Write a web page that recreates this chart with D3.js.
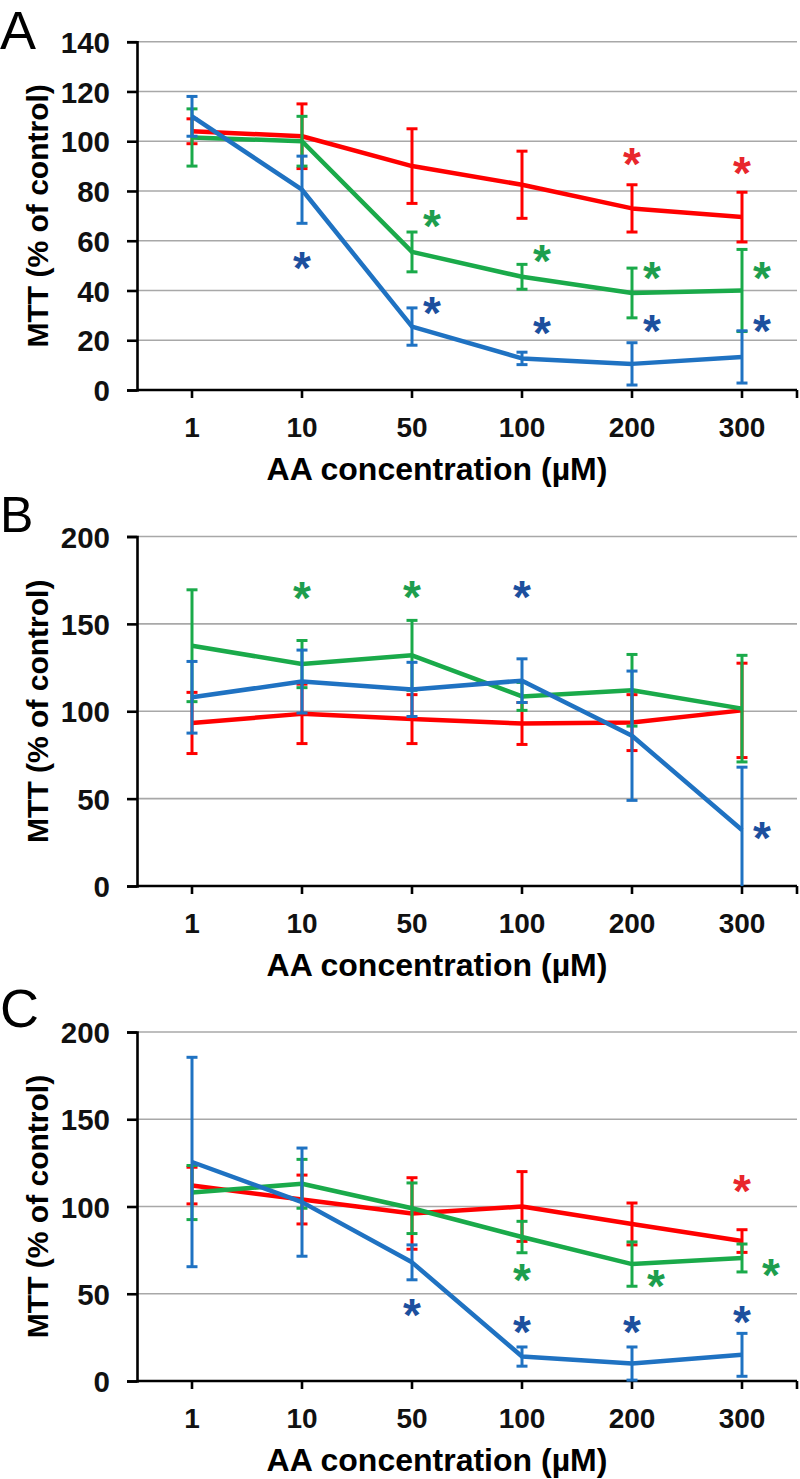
<!DOCTYPE html>
<html><head><meta charset="utf-8">
<script src="https://cdn.jsdelivr.net/npm/d3@7"></script>
<style>
html,body{margin:0;padding:0;background:#fff;}
svg{display:block;font-family:"Liberation Sans",Arial,sans-serif;}
</style></head>
<body>
<svg id="chart" width="800" height="1479"></svg>
<script>
// ---------- data ----------
const categories = ["1","10","50","100","200","300"];
const xTitle = "AA concentration (µM)";
const yTitle = "MTT (% of control)";

const ticksA = [0,20,40,60,80,100,120,140];
const ticksBC = [0,50,100,150,200];

// Panel A
const redA    = [104, 102, 90, 82.5, 73, 69.5];
const redAErr = [5, 13, 15, 13.5, 9.5, 10];
const greenA    = [101.5, 100, 55.5, 45.5, 39, 40];
const greenAErr = [11.5, 10, 8, 5, 10, 16.5];
const blueA    = [110, 80.5, 25.5, 12.7, 10.5, 13.3];
const blueAErr = [8, 13.5, 7.5, 2.5, 8.5, 10.5];
const starsA = [["blue","10",52.7,0],["green","50",69.6,1],["blue","50",34.7,1],["green","100",55.7,1],["blue","100",26.7,1],["red","200",94.4,0],["green","200",48.7,1],["blue","200",27.3,1],["red","300",91,0],["green","300",48.7,1],["blue","300",27.3,1]];

// Panel B
const redB    = [93.3, 98.5, 95.5, 93, 93.5, 100.5];
const redBErr = [17.5, 17, 14, 12, 16, 27];
const greenB    = [137.5, 127, 132, 108.5, 112, 101.5];
const greenBErr = [32, 13.5, 20, 8, 20.5, 30.5];
const blueB    = [108, 117, 112.5, 117.5, 86, 32];
const blueBErr = [20.5, 18, 15.5, 12.5, 37, 36];
const starsB = [["green","10",170.4,0],["green","50",170.5,0],["blue","100",170.5,0],["blue","300",32.8,1]];

// Panel C
const redC    = [112, 104, 96, 100, 90, 80.2];
const redCErr = [10.5, 14, 20.5, 20, 12, 6.5];
const greenC    = [108, 113, 99, 82.5, 67, 70.5];
const greenCErr = [15.5, 14, 14.5, 9, 12.7, 8];
const blueC    = [125.5, 102.5, 68, 14, 10, 15];
const blueCErr = [60, 31, 10, 5.5, 9.5, 12.3];
const starsC = [["blue","50",43.4,0],["green","100",63.4,0],["blue","100",33.2,0],["green","200",59.6,1.2],["blue","200",33.2,0],["red","300",114,0],["green","300",65.9,1.45],["blue","300",39,0]];

// ---------- styles ----------
const lineColor = {red:"#ff0000", green:"#1aaa4a", blue:"#1f72c2"};
const starColor = {red:"#e8262c", green:"#1d9e4e", blue:"#1c4f9e"};

const panels = [
  {letter:"A", lsize:54, lbase:49, top:41.7, bottom:390, max:140, ticks:ticksA,
   series:[["red",redA,redAErr],["green",greenA,greenAErr],["blue",blueA,blueAErr]], stars:starsA},
  {letter:"B", lsize:50, lbase:532, top:536.5, bottom:886, max:200, ticks:ticksBC,
   series:[["red",redB,redBErr],["green",greenB,greenBErr],["blue",blueB,blueBErr]], stars:starsB},
  {letter:"C", lsize:54, lbase:1027, top:1032, bottom:1381, max:200, ticks:ticksBC,
   series:[["red",redC,redCErr],["green",greenC,greenCErr],["blue",blueC,blueCErr]], stars:starsC}
];

const svg = d3.select("#chart");
const left = 137, right = 797;
const x = d3.scaleBand().domain(categories).range([left, right]);
const cx = c => x(c) + x.bandwidth()/2;

panels.forEach(p => {
  const g = svg.append("g");
  const y = d3.scaleLinear().domain([0, p.max]).range([p.bottom, p.top]);

  // gridlines
  g.append("g").selectAll("line").data(p.ticks.filter(t => t > 0)).join("line")
    .attr("x1", left).attr("x2", right)
    .attr("y1", d => y(d)).attr("y2", d => y(d))
    .attr("stroke", "#a8a8a8").attr("stroke-width", 1.6);

  // y axis
  const ya = g.append("g").attr("transform", `translate(${left},0)`)
    .call(d3.axisLeft(y).tickValues(p.ticks).tickSize(10).tickPadding(17));
  ya.select(".domain").attr("stroke", "#000").attr("stroke-width", 2.6);
  ya.selectAll(".tick line").attr("stroke", "#000").attr("stroke-width", 2.6);
  ya.selectAll(".tick text").attr("font-size", 29.5).attr("font-weight", "bold")
    .attr("fill", "#111").attr("font-family", "'Liberation Sans',Arial,sans-serif")
    .attr("dy", "0.36em");

  // x axis
  const xa = g.append("g").attr("transform", `translate(0,${p.bottom})`)
    .call(d3.axisBottom(x).tickSize(8).tickPadding(0).tickFormat(""));
  xa.select(".domain").attr("stroke", "#000").attr("stroke-width", 2.6)
    .attr("d", `M${left},0H${right}`);
  xa.selectAll(".tick line").attr("stroke", "#000").attr("stroke-width", 2.6);
  xa.append("line").attr("x1", right).attr("x2", right).attr("y1", 0).attr("y2", 8)
    .attr("stroke", "#000").attr("stroke-width", 2.6);
  g.append("g").selectAll("text").data(categories).join("text")
    .attr("x", d => cx(d)).attr("y", p.bottom + 47)
    .attr("text-anchor", "middle").attr("font-size", 28).attr("font-weight", "bold")
    .attr("fill", "#111").text(d => d);

  // x title
  g.append("text").attr("x", 437).attr("y", p.bottom + 90)
    .attr("text-anchor", "middle").attr("font-size", 32).attr("font-weight", "bold")
    .attr("fill", "#000").text(xTitle);

  // y title
  g.append("text")
    .attr("transform", `translate(48,${(p.top + p.bottom)/2}) rotate(-90)`)
    .attr("text-anchor", "middle").attr("font-size", 30).attr("font-weight", "bold")
    .attr("fill", "#000").text(yTitle);

  // panel letter
  g.append("text").attr("x", 0).attr("y", p.lbase)
    .attr("font-size", p.lsize).attr("fill", "#000").text(p.letter);

  // series
  const line = d3.line().x((d, i) => cx(categories[i])).y(d => y(d));
  p.series.forEach(([name, vals, errs]) => {
    const sg = g.append("g");
    sg.append("path").datum(vals).attr("d", line)
      .attr("fill", "none").attr("stroke", lineColor[name]).attr("stroke-width", 4.5)
      .attr("stroke-linejoin", "round");
    const eb = sg.selectAll("g.err").data(vals.map((v, i) => ({c: categories[i], v, e: errs[i]})))
      .join("g").attr("class", "err");
    const lo = d => y(Math.max(0, d.v - d.e));
    const hi = d => y(Math.min(p.max, d.v + d.e));
    eb.append("line").attr("x1", d => cx(d.c)).attr("x2", d => cx(d.c))
      .attr("y1", lo).attr("y2", hi)
      .attr("stroke", lineColor[name]).attr("stroke-width", 3);
    eb.filter(d => d.v + d.e <= p.max).append("line")
      .attr("x1", d => cx(d.c) - 5.5).attr("x2", d => cx(d.c) + 5.5)
      .attr("y1", hi).attr("y2", hi)
      .attr("stroke", lineColor[name]).attr("stroke-width", 3);
    eb.filter(d => d.v - d.e >= 0).append("line")
      .attr("x1", d => cx(d.c) - 5.5).attr("x2", d => cx(d.c) + 5.5)
      .attr("y1", lo).attr("y2", lo)
      .attr("stroke", lineColor[name]).attr("stroke-width", 3);
  });

  // significance asterisks
  const fs = 46;
  g.append("g").selectAll("text").data(p.stars).join("text")
    .attr("x", d => cx(d[1]) + d[3] * 20)
    .attr("y", d => y(d[2]) + fs * 0.55)
    .attr("text-anchor", "middle").attr("font-size", fs).attr("font-weight", "bold")
    .attr("fill", d => starColor[d[0]]).text("*");
});
</script>
</body></html>
